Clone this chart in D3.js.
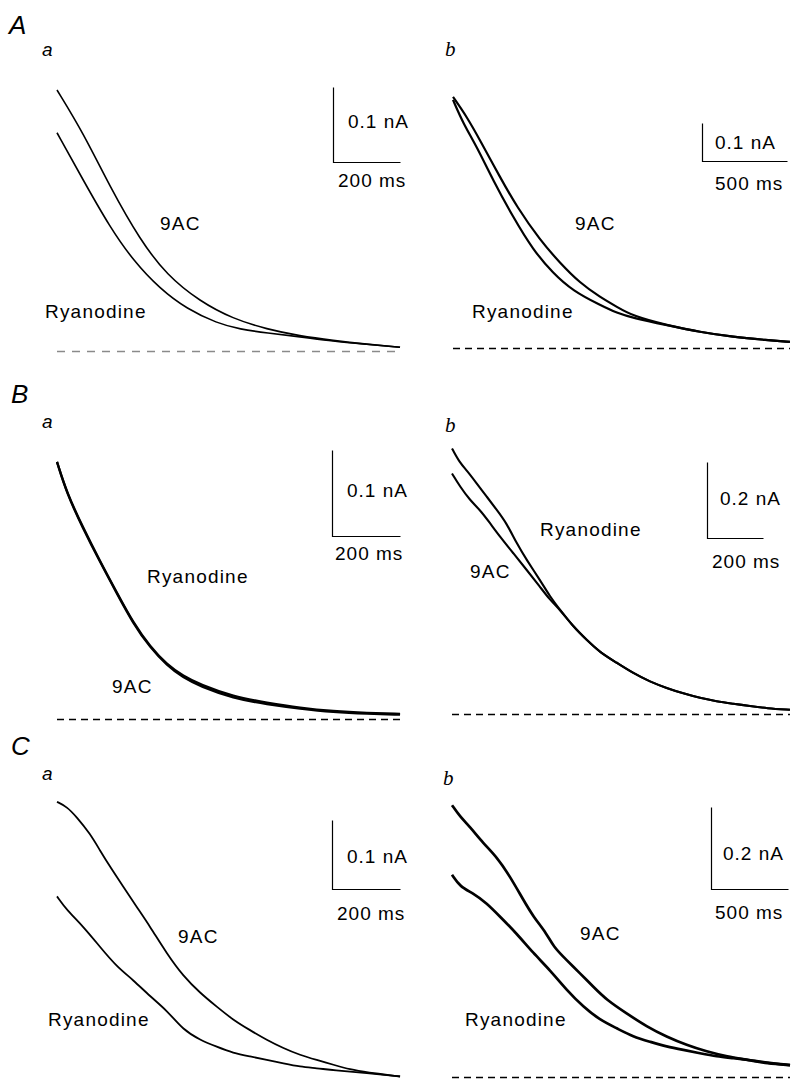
<!DOCTYPE html>
<html>
<head>
<meta charset="utf-8">
<script src="https://cdn.jsdelivr.net/npm/d3@7"></script>
<style>
  body { margin: 0; background: #fff; }
  text { font-family: "Liberation Sans", Arial, sans-serif; fill: #000; }
</style>
</head>
<body>
<div id="fig"></div>
<script>
// Traces: [time (ms), current (nA)] from the start of the decay
var aa9AC = [[0,0.348],[78,0.291],[158,0.219],[248,0.148],[328,0.101],[427,0.066],[525,0.043],[627,0.029],[725,0.020],[824,0.014],[925,0.009],[1024,0.005]];
var aaRya = [[0,0.291],[78,0.228],[158,0.165],[227,0.121],[307,0.083],[388,0.056],[478,0.037],[546,0.029],[627,0.024],[725,0.019],[824,0.013],[925,0.009],[1024,0.005]];

var ab9AC = [[0,0.661],[82,0.608],[159,0.547],[276,0.450],[376,0.371],[512,0.284],[629,0.224],[747,0.171],[865,0.134],[965,0.108],[1059,0.084],[1259,0.060],[1453,0.042],[1647,0.029],[1847,0.021],[1982,0.016]];
var abRya = [[0,0.653],[59,0.592],[141,0.529],[235,0.442],[353,0.345],[471,0.258],[588,0.197],[706,0.150],[865,0.113],[965,0.092],[1059,0.079],[1259,0.060],[1453,0.042],[1647,0.029],[1847,0.021],[1982,0.016]];

var baRya = [[0,0.299],[29,0.263],[76,0.223],[126,0.184],[176,0.147],[224,0.112],[274,0.084],[324,0.063],[371,0.050],[421,0.040],[518,0.026],[618,0.019],[715,0.013],[812,0.009],[912,0.007],[1009,0.006]];
var ba9AC = [[0,0.299],[29,0.262],[76,0.222],[126,0.183],[176,0.146],[224,0.111],[274,0.083],[324,0.062],[371,0.048],[421,0.038],[518,0.024],[618,0.017],[715,0.012],[812,0.008],[912,0.006],[1009,0.005]];

var bbRya = [[0,0.699],[29,0.660],[52,0.642],[88,0.607],[124,0.572],[160,0.537],[195,0.502],[231,0.449],[267,0.405],[314,0.353],[350,0.309],[386,0.274],[433,0.230],[481,0.195],[529,0.162],[588,0.135],[648,0.107],[707,0.085],[767,0.068],[826,0.054],[886,0.042],[945,0.033],[1005,0.027],[1064,0.021],[1124,0.015],[1207,0.011]];
var bb9AC = [[0,0.633],[29,0.598],[64,0.563],[100,0.537],[136,0.502],[171,0.467],[219,0.423],[267,0.379],[314,0.335],[350,0.300],[386,0.274],[433,0.230],[481,0.195],[529,0.162],[588,0.135],[648,0.107],[707,0.085],[767,0.068],[826,0.054],[886,0.042],[945,0.033],[1005,0.027],[1064,0.021],[1124,0.015],[1207,0.011]];

var ca9AC = [[0,0.406],[29,0.399],[58,0.384],[97,0.360],[126,0.336],[156,0.312],[195,0.283],[234,0.254],[274,0.225],[323,0.186],[372,0.153],[421,0.129],[470,0.109],[518,0.090],[568,0.075],[617,0.061],[666,0.049],[715,0.039],[764,0.032],[813,0.025],[862,0.018],[911,0.014],[1009,0.008]];
var caRya = [[0,0.269],[29,0.249],[78,0.225],[126,0.196],[176,0.167],[224,0.148],[274,0.124],[323,0.104],[372,0.075],[421,0.061],[470,0.051],[518,0.042],[568,0.037],[617,0.032],[666,0.027],[715,0.022],[764,0.020],[813,0.017],[911,0.013],[1009,0.008]];

var cb9AC = [[0,0.663],[52,0.635],[117,0.610],[203,0.570],[290,0.537],[377,0.489],[463,0.432],[528,0.391],[615,0.350],[658,0.318],[745,0.285],[831,0.253],[918,0.220],[1004,0.188],[1134,0.155],[1264,0.123],[1394,0.098],[1524,0.078],[1654,0.062],[1784,0.050],[1935,0.041],[2043,0.033],[2195,0.029]];
var cbRya = [[0,0.493],[52,0.464],[139,0.448],[225,0.424],[312,0.391],[420,0.350],[528,0.302],[636,0.261],[745,0.212],[853,0.171],[961,0.139],[1069,0.119],[1177,0.098],[1286,0.086],[1394,0.074],[1502,0.066],[1610,0.058],[1719,0.050],[1827,0.046],[1935,0.041],[2043,0.035],[2195,0.029]];

// Scale bar sizes for each panel (Aa, Ab, Ba, Bb, Ca, Cb)
var barNA = [0.1, 0.1, 0.1, 0.2, 0.1, 0.2];
var barMS = [200, 500, 200, 200, 200, 500];

// Panel layout: trace extent, baseline, pixels per unit, label positions
var panels = [
  {sub: "a", subXY: [42,56], left: 57, right: 400, base: 351, pxMs: 0.335, pxNA: 750, dash: true, dashCol: "#8a8a8a", dashArr: "8,7", width: 1.6,
   traces: [aa9AC, aaRya], bar: [333,162],
   labels: [["9AC",160,230],["Ryanodine",45,318]], nAxy: [348,128], msxy: [338,187]},
  {sub: "b", subXY: [445,56], left: 453, right: 790, base: 348, pxMs: 0.17, pxNA: 380, dash: true, dashCol: "#000", dashArr: "7,5", width: 2.2,
   traces: [ab9AC, abRya], bar: [702,161],
   labels: [["9AC",575,230],["Ryanodine",472,318]], nAxy: [715,149], msxy: [715,190]},
  {sub: "a", subXY: [42,428], left: 57, right: 400, base: 719, pxMs: 0.34, pxNA: 860, dash: true, dashCol: "#000", dashArr: "7,5", width: 2.3,
   traces: [ba9AC, baRya], bar: [332,536],
   labels: [["Ryanodine",147,583],["9AC",112,693]], nAxy: [347,497], msxy: [335,560]},
  {sub: "b", subXY: [445,432], left: 452, right: 790, base: 714, pxMs: 0.28, pxNA: 380, dash: true, dashCol: "#000", dashArr: "7,5", width: 2.1,
   traces: [bbRya, bb9AC], bar: [707,538],
   labels: [["Ryanodine",540,536],["9AC",470,578]], nAxy: [720,505], msxy: [712,568]},
  {sub: "a", subXY: [42,780], left: 57, right: 400, base: 1082, pxMs: 0.34, pxNA: 690, dash: false, width: 1.8,
   traces: [ca9AC, caRya], bar: [332,889],
   labels: [["9AC",178,943],["Ryanodine",48,1026]], nAxy: [347,863], msxy: [337,920]},
  {sub: "b", subXY: [443,785], left: 452, right: 790, base: 1077, pxMs: 0.154, pxNA: 410, dash: true, dashCol: "#000", dashArr: "7,5", width: 2.7,
   traces: [cb9AC, cbRya], bar: [711,889],
   labels: [["9AC",580,940],["Ryanodine",465,1026]], nAxy: [723,860], msxy: [715,919]}
];

var rows = [["A",9,34],["B",11,403],["C",11,755]];

var svg = d3.select("#fig").append("svg")
    .attr("width", 791)
    .attr("height", 1080);

// Row letters
svg.selectAll(".row")
    .data(rows)
    .enter().append("text")
    .attr("class", "row")
    .attr("x", d => d[1])
    .attr("y", d => d[2])
    .style("font-size", "26px")
    .style("font-style", "italic")
    .text(d => d[0]);

panels.forEach(function(p, i) {
    var tMax = (p.right - p.left) / p.pxMs;
    var x = d3.scaleLinear().domain([0, tMax]).range([p.left, p.right]);
    var y = d3.scaleLinear().domain([0, 1]).range([p.base, p.base - p.pxNA]);

    var g = svg.append("g");

    // panel sub-letter
    g.append("text")
        .attr("x", p.subXY[0])
        .attr("y", p.subXY[1])
        .style("font-size", p.sub === "b" ? "21px" : "19px")
        .style("font-style", "italic")
        .style("font-family", p.sub === "b" ? "'Liberation Serif', serif" : null)
        .text(p.sub);

    // zero-current baseline
    if (p.dash) {
        g.append("line")
            .attr("x1", x(0)).attr("x2", x(tMax))
            .attr("y1", Math.round(y(0)) + 0.5).attr("y2", Math.round(y(0)) + 0.5)
            .attr("stroke", p.dashCol)
            .attr("stroke-width", 1.3)
            .attr("stroke-dasharray", p.dashArr);
    }

    var line = d3.line()
        .x(d => x(d[0]))
        .y(d => y(d[1]))
        .curve(d3.curveBasis);

    p.traces.forEach(function(tr) {
        g.append("path")
            .datum(tr)
            .attr("fill", "none")
            .attr("stroke", "#000")
            .attr("stroke-width", p.width)
            .attr("stroke-linejoin", "round")
            .attr("d", line);
    });

    // scale bars
    var bx = Math.round(p.bar[0]) + 0.5, by = Math.round(p.bar[1]) + 0.5;
    var vLen = y(0) - y(barNA[i]);
    var hLen = x(barMS[i]) - x(0);
    g.append("path")
        .attr("d", "M" + bx + "," + (by - vLen) + "V" + by + "H" + (bx + hLen))
        .attr("fill", "none")
        .attr("stroke", "#000")
        .attr("stroke-width", 1.2);

    g.append("text")
        .attr("x", p.nAxy[0]).attr("y", p.nAxy[1])
        .style("font-size", "19px")
        .style("letter-spacing", "1px")
        .text(barNA[i] + " nA");

    g.append("text")
        .attr("x", p.msxy[0]).attr("y", p.msxy[1])
        .style("font-size", "19px")
        .style("letter-spacing", "1px")
        .text(barMS[i] + " ms");

    p.labels.forEach(function(l) {
        g.append("text")
            .attr("x", l[1]).attr("y", l[2])
            .style("font-size", "19px")
            .style("letter-spacing", "1.2px")
            .text(l[0]);
    });
});
</script>
</body>
</html>
